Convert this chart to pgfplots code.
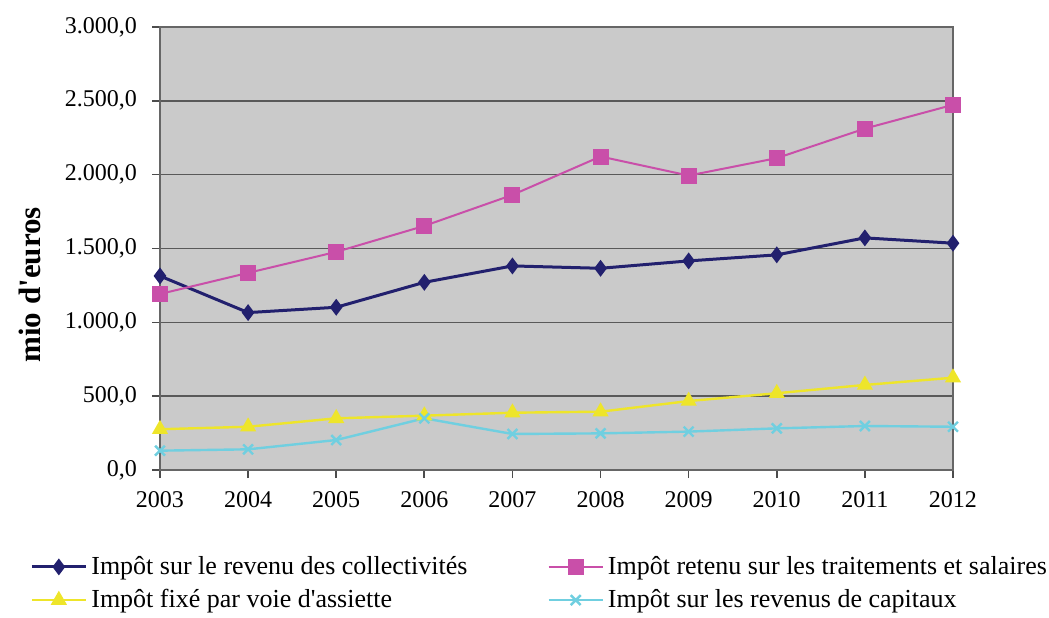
\documentclass[border=0pt]{standalone}
\usepackage{fontspec}
\setmainfont{Liberation Serif}
\newcommand\ap{\XeTeXglyph\XeTeXcharglyph"27\relax}
\usepackage{pgfplots}
\pgfplotsset{compat=1.18}
\definecolor{cblue}{HTML}{22206E}
\definecolor{cpink}{HTML}{C94FA9}
\definecolor{cyel}{HTML}{EEE52A}
\definecolor{ccyan}{HTML}{70CFE0}
\definecolor{bg}{HTML}{CACACA}
\begin{document}
\begin{tikzpicture}
\begin{axis}[
  at={(0,0)}, anchor=south west,
  scale only axis, width=396.5pt, height=221.5pt,
  xmin=2003, xmax=2012, ymin=0, ymax=3000,
  xtick={2003,...,2012}, ytick={0,500,...,3000},
  xticklabel={\pgfmathprintnumber[1000 sep={},fixed,precision=0]{\tick}},
  xticklabel style={yshift=-3pt},
  yticklabel style={xshift=-4pt,/pgf/number format/.cd,fixed,precision=1,zerofill,use comma,1000 sep={.}},
  /pgf/number format/assume math mode=true,
  tick label style={font=\fontsize{12}{14}\selectfont},
  tick align=outside, major tick length=4pt,
  xtick pos=bottom, ytick pos=left,
  axis background/.style={fill=bg},
  axis line style={draw=black!60, line width=0.8pt},
  major tick style={draw=black!70, line width=0.8pt},
  ymajorgrids, grid style={draw=black!65, line width=0.8pt},
  ylabel={mio d\ap euros},
  ylabel style={font=\bfseries\fontsize{15.5}{17}\selectfont, at={(axis description cs:-0.164,0.418)}, anchor=center, rotate=0},
  legend columns=2,
  legend style={at={(axis description cs:-0.164,-0.185)}, anchor=north west, draw=none, fill=none,
    font=\fontsize{13}{15}\selectfont, inner sep=0pt, row sep=2pt,
    /tikz/every even column/.append style={column sep=38pt}},
  legend cell align=left,
  legend image code/.code={\draw[mark repeat=2,mark phase=2] plot coordinates {(0pt,0pt)(13.5pt,0pt)(27pt,0pt)};},
]
\addplot[cblue, line width=1.5pt, mark=diamond*, mark size=3pt, mark options={solid}] coordinates {
(2003,1314)(2004,1066)(2005,1102)(2006,1271)(2007,1382)(2008,1366)(2009,1416)(2010,1457)(2011,1572)(2012,1536)};
\addlegendentry{Impôt sur le revenu des collectivités}
\addplot[cpink, line width=1pt, mark=square*, mark size=3.5pt] coordinates {
(2003,1192)(2004,1335)(2005,1477)(2006,1653)(2007,1863)(2008,2123)(2009,1994)(2010,2112)(2011,2312)(2012,2473)};
\addlegendentry{Impôt retenu sur les traitements et salaires}
\addplot[cyel, line width=1.2pt, mark=triangle*, mark size=3.5pt] coordinates {
(2003,276)(2004,293)(2005,350)(2006,368)(2007,388)(2008,395)(2009,467)(2010,520)(2011,576)(2012,625)};
\addlegendentry{Impôt fixé par voie d\ap assiette}
\addplot[ccyan, line width=1.2pt, mark=x, mark size=3.5pt] coordinates {
(2003,131)(2004,140)(2005,203)(2006,350)(2007,244)(2008,248)(2009,260)(2010,282)(2011,298)(2012,293)};
\addlegendentry{Impôt sur les revenus de capitaux}
\end{axis}
\pgfresetboundingbox
\path (-80pt,-73.5pt) rectangle (444.5pt,235pt);
\end{tikzpicture}
\end{document}
